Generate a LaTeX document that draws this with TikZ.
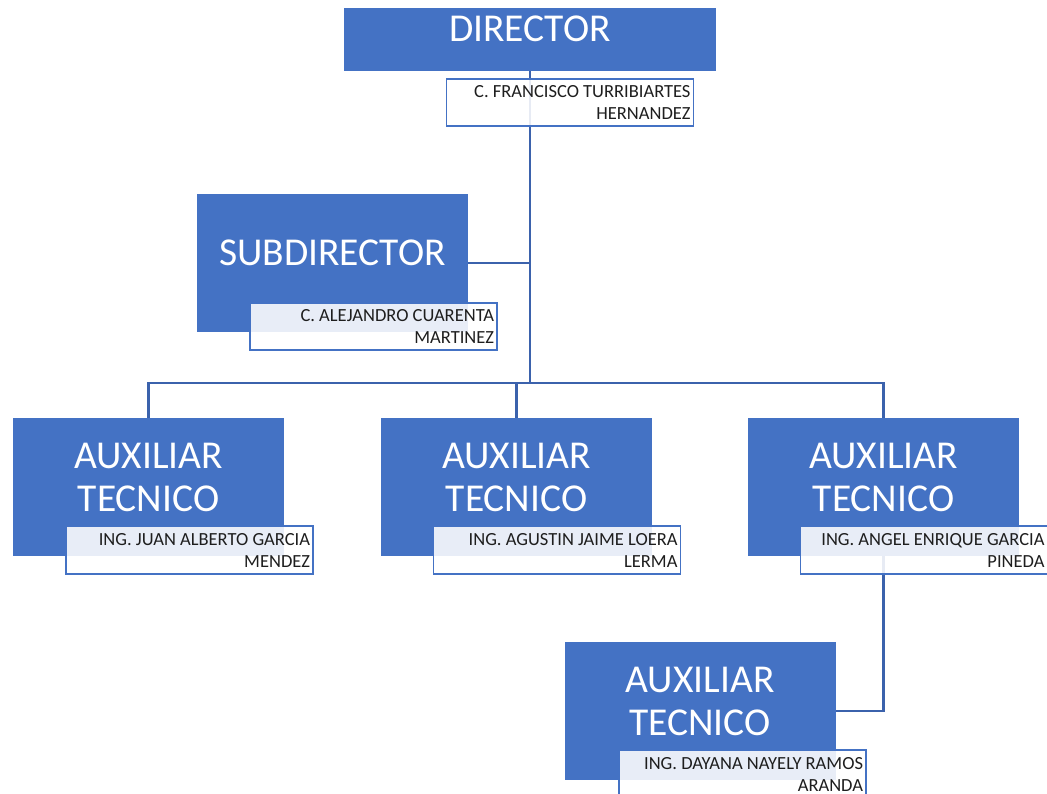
\documentclass[tikz,border=0pt]{standalone}
\usepackage{fontspec}
\setmainfont{Carlito}
\definecolor{boxblue}{HTML}{4472C4}
\definecolor{linkblue}{HTML}{3B62AC}
\definecolor{nametxt}{HTML}{1E1E1E}
\begin{document}
\begin{tikzpicture}[x=1pt,y=-1pt,
  bluebox/.style={rectangle, fill=boxblue, draw=none, minimum width=271pt, minimum height=138pt, inner sep=0pt},
  titletext/.style={text=white, font=\fontsize{39.5}{43}\selectfont, inner sep=0pt, anchor=base},
  namebox/.style={rectangle, draw=boxblue, line width=1.8pt, fill=white, fill opacity=0.88, text opacity=1,
    text=nametxt, minimum width=247pt, minimum height=47pt, text width=241pt, align=flush right,
    inner xsep=3pt, inner ysep=0pt, font=\fontsize{18.5}{22}\selectfont},
  link/.style={draw=linkblue, line width=2.2pt}]
\useasboundingbox (0,0) rectangle (1047,794);
\clip (0,0) rectangle (1047,794);
% main boxes
\node[bluebox, minimum width=372pt, minimum height=63pt] (dir) at (530,39.5) {};
\node[bluebox] (sub) at (332.5,263) {};
\node[bluebox] (aux1) at (148.5,487) {};
\node[bluebox] (aux2) at (516.5,487) {};
\node[bluebox] (aux3) at (883.5,487) {};
\node[bluebox] (aux4) at (700,711) {};
% titles
\node[titletext] (dirt) at (530,42) {DIRECTOR};
\node[titletext] (subt) at (332.5,266) {SUBDIRECTOR};
\node[titletext] (aux1a) at (148.5,468) {AUXILIAR};
\node[titletext] (aux1b) at (148.5,511) {TECNICO};
\node[titletext] (aux2a) at (516.5,468) {AUXILIAR};
\node[titletext] (aux2b) at (516.5,511) {TECNICO};
\node[titletext] (aux3a) at (883.5,468) {AUXILIAR};
\node[titletext] (aux3b) at (883.5,511) {TECNICO};
\node[titletext] (aux4a) at (700,692) {AUXILIAR};
\node[titletext] (aux4b) at (700,735) {TECNICO};
% connectors
\coordinate (bus) at (530,383);
\draw[link] (dir.south) -- (bus);
\draw[link] (sub.east) -- (sub.east -| dir.south);
\draw[link] (aux1.north) -- (aux1.north |- bus) -- (aux3.north |- bus) -- (aux3.north);
\draw[link] (aux2.north) -- (aux2.north |- bus);
\draw[link] (aux3.south) |- (aux4.east);
% name boxes
\node[namebox] (dirn) at (570,102.5) {C. FRANCISCO TURRIBIARTES\\HERNANDEZ};
\node[namebox] (subn) at (373.5,326.5) {C. ALEJANDRO CUARENTA\\MARTINEZ};
\node[namebox, minimum height=48pt] (aux1n) at (189.5,550) {ING. JUAN ALBERTO GARCIA\\MENDEZ};
\node[namebox, minimum height=48pt] (aux2n) at (557,550) {ING. AGUSTIN JAIME LOERA\\LERMA};
\node[namebox, minimum height=48pt] (aux3n) at (924,550) {ING. ANGEL ENRIQUE GARCIA\\PINEDA};
\node[namebox, minimum height=48pt] (aux4n) at (742.5,774) {ING. DAYANA NAYELY RAMOS\\ARANDA};
\end{tikzpicture}
\end{document}
